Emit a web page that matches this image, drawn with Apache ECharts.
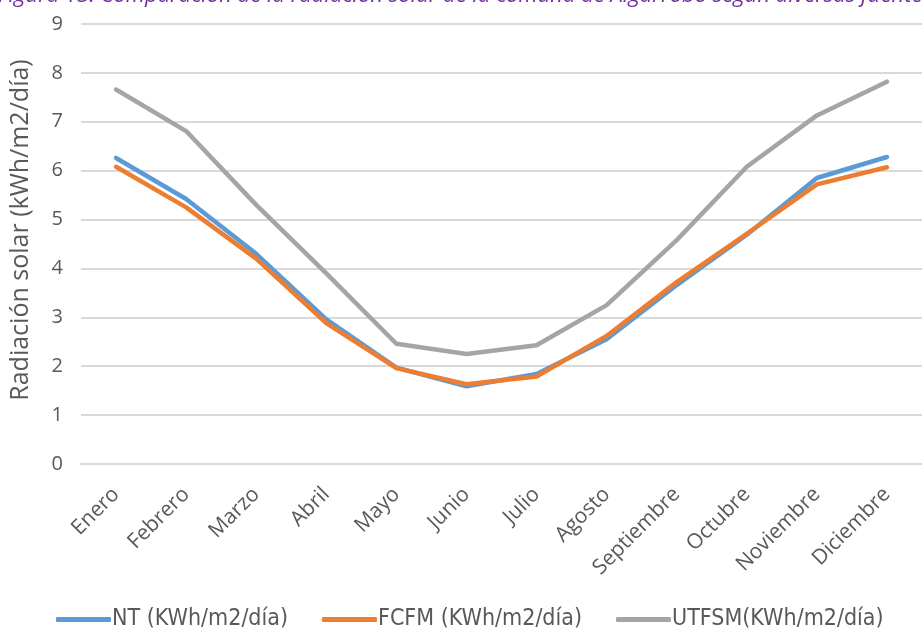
<!DOCTYPE html>
<html>
<head>
<meta charset="utf-8">
<script src="https://cdn.jsdelivr.net/npm/echarts@6/dist/echarts.min.js"></script>
<style>
  html, body { margin: 0; padding: 0; background: #ffffff; }
  #chart { width: 922px; height: 630px; }
</style>
</head>
<body>
<div id="chart"></div>
<script>
// Monthly solar radiation for Algarrobo, three sources
const months = ['Enero', 'Febrero', 'Marzo', 'Abril', 'Mayo', 'Junio', 'Julio',
  'Agosto', 'Septiembre', 'Octubre', 'Noviembre', 'Diciembre'];
const ntValues = [6.26, 5.42, 4.30, 2.96, 1.97, 1.59, 1.84, 2.55, 3.66, 4.69, 5.85, 6.28];
const fcfmValues = [6.08, 5.25, 4.20, 2.88, 1.96, 1.63, 1.79, 2.62, 3.72, 4.71, 5.72, 6.07];
const utfsmValues = [7.66, 6.81, 5.30, 3.90, 2.46, 2.25, 2.43, 3.25, 4.58, 6.08, 7.13, 7.82];
const seriesNames = ['NT (KWh/m2/día)', 'FCFM (KWh/m2/día)', 'UTFSM(KWh/m2/día)'];
const seriesColors = ['#5B9BD5', '#ED7D31', '#A5A5A5'];
const yTicks = { min: 0, max: 9, step: 1 };
const captionText = 'Figura 13: Comparación de la radiación solar de la comuna de Algarrobo según diversas fuentes';

const chart = echarts.init(document.getElementById('chart'));

const lineSeries = [ntValues, fcfmValues, utfsmValues].map((vals, i) => ({
  name: seriesNames[i],
  type: 'line',
  data: vals,
  symbol: 'none',
  smooth: false,
  lineStyle: { width: 4.5, color: seriesColors[i], cap: 'round', join: 'round' },
  itemStyle: { color: seriesColors[i] },
  z: i === 1 ? 4 : 3,
  animation: false
}));

chart.setOption({
  animation: false,
  graphic: [{
    type: 'text',
    left: -2,
    top: -15,
    style: {
      text: captionText,
      font: 'italic 22px "Open Sans"',
      fill: '#7030A0'
    }
  }],
  legend: {
    top: 603,
    left: 51,
    itemWidth: 55,
    itemHeight: 5,
    itemGap: 34,
    icon: 'roundRect',
    textStyle: { color: '#595959', fontSize: 23, fontFamily: '"Liberation Sans Narrow", "DejaVu Sans Condensed", sans-serif', padding: [0, 0, 0, -4] },
    data: seriesNames
  },
  grid: { left: 79.4, top: 24, width: 854.4, height: 440, containLabel: false },
  xAxis: {
    type: 'category',
    data: months,
    boundaryGap: true,
    axisLine: { show: true, lineStyle: { color: '#D9D9D9', width: 2 } },
    axisTick: { show: false },
    axisLabel: {
      rotate: 45,
      color: '#595959',
      fontSize: 21,
      fontFamily: '"Open Sans", sans-serif',
      margin: 27,
      interval: 0
    }
  },
  yAxis: {
    type: 'value',
    min: yTicks.min,
    max: yTicks.max,
    interval: yTicks.step,
    name: 'Radiación solar (kWh/m2/día)',
    nameLocation: 'middle',
    nameGap: 48,
    nameRotate: 90,
    nameTextStyle: { color: '#595959', fontSize: 25, fontFamily: '"Open Sans", sans-serif', padding: [0, 0, 0, 28] },
    axisLine: { show: false },
    axisTick: { show: false },
    splitLine: { lineStyle: { color: '#D9D9D9', width: 2 } },
    axisLabel: { color: '#595959', fontSize: 20, fontFamily: '"Open Sans", sans-serif', margin: 18 }
  },
  series: lineSeries
});
</script>
</body>
</html>
